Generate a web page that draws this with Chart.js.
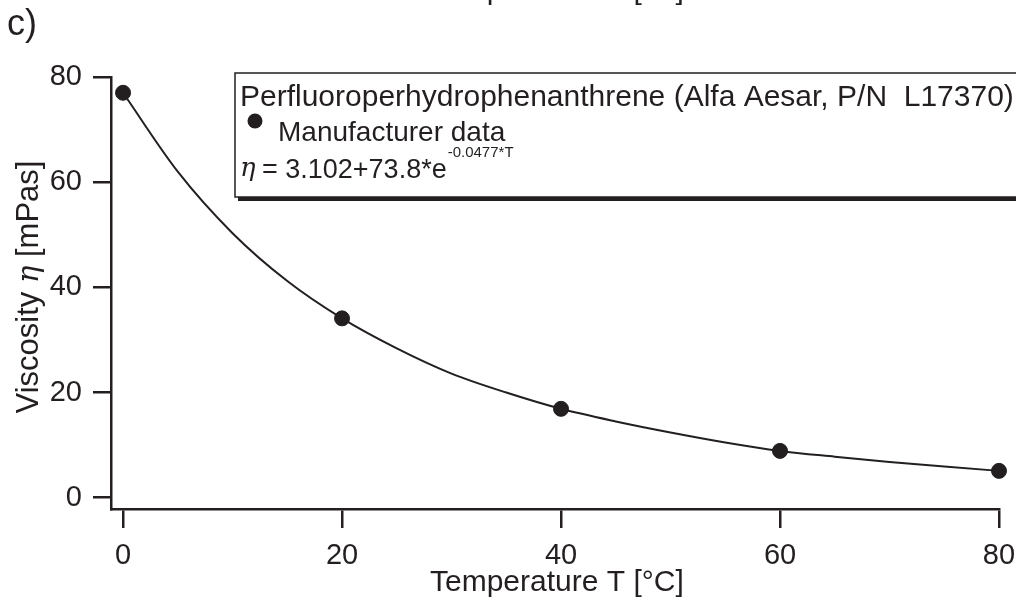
<!DOCTYPE html>
<html>
<head>
<meta charset="utf-8">
<script src="https://cdn.jsdelivr.net/npm/chart.js@4.4.1/dist/chart.umd.min.js"></script>
<style>
  html, body { margin: 0; padding: 0; background: #fff; }
  #wrap { width: 1016px; height: 598px; }
</style>
</head>
<body>
<div id="wrap"><canvas id="chart" width="1016" height="598"></canvas></div>
<script>
// manufacturer data points
const tempData = [0, 20, 40, 60, 80];
const viscData = [77.0, 34.1, 16.9, 8.9, 5.1];

// fitted curve
const fitTemp = [0, 5, 10, 15, 20, 25, 30, 35, 40, 45, 50, 55, 60, 65, 70, 75, 80];
const fitVisc = [77.0, 62.0, 50.3, 41.2, 34.1, 28.4, 23.6, 20.0, 16.9, 14.5, 12.4, 10.5, 8.9, 7.8, 6.8, 5.95, 5.1];

const xTicks = [0, 20, 40, 60, 80];
const yTicks = [0, 20, 40, 60, 80];

const ink = "#231f20";
const sans = "'Liberation Sans', Arial, Helvetica, sans-serif";
const serif = "'DejaVu Serif', serif";

const overlay = {
  id: "overlay",
  afterDraw(chart) {
    const ctx = chart.ctx;
    ctx.save();
    ctx.fillStyle = ink;
    ctx.strokeStyle = ink;
    ctx.textBaseline = "alphabetic";
    ctx.textAlign = "left";

    // panel label
    ctx.font = "36px " + sans;
    ctx.fillText("c)", 7, 35);

    // cut-off title of the panel above, and the x title
    ctx.font = "30px " + sans;
    ctx.fillText("Temperature T [°C]", 430, -1);
    ctx.fillText("Temperature T [°C]", 430, 591);

    // y title, rotated
    ctx.save();
    ctx.translate(38, 287);
    ctx.rotate(-Math.PI / 2);
    const parts = [["Viscosity ", "31px " + sans], ["η", "italic 29px " + serif], [" [mPas]", "31px " + sans]];
    let total = 0;
    parts.forEach(p => { ctx.font = p[1]; total += ctx.measureText(p[0]).width; });
    let x = -total / 2;
    parts.forEach(p => { ctx.font = p[1]; ctx.fillText(p[0], x, 0); x += ctx.measureText(p[0]).width; });
    ctx.restore();

    // legend box with drop shadow
    const bx = 235, by = 73, bw = 800, bh = 124;
    ctx.fillRect(bx + 3, by + bh, bw, 4);
    ctx.fillStyle = "#fff";
    ctx.fillRect(bx, by, bw, bh);
    ctx.fillStyle = ink;
    ctx.lineWidth = 1.5;
    ctx.strokeRect(bx, by, bw, bh);

    ctx.font = "30px " + sans;
    ctx.fillText("Perfluoroperhydrophenanthrene (Alfa Aesar, P/N  L17370)", 240, 106);

    ctx.beginPath();
    ctx.arc(255, 121, 7.5, 0, Math.PI * 2);
    ctx.fill();
    ctx.font = "28px " + sans;
    ctx.fillText("Manufacturer data", 278, 141);

    ctx.font = "italic 26px " + serif;
    ctx.fillText("η", 240, 176);
    ctx.font = "27px " + sans;
    const eq = "= 3.102+73.8*e";
    ctx.fillText(eq, 262, 178);
    const ew = ctx.measureText(eq).width;
    ctx.font = "15px " + sans;
    ctx.fillText("-0.0477*T", 262 + ew + 1, 157);

    ctx.restore();
  }
};

new Chart(document.getElementById("chart"), {
  data: {
    datasets: [
      {
        type: "line",
        label: "fit",
        data: fitTemp.map((t, i) => ({ x: t, y: fitVisc[i] })),
        borderColor: ink,
        borderWidth: 2,
        pointRadius: 0,
        cubicInterpolationMode: "monotone",
        fill: false,
        clip: false,
        order: 2,
      },
      {
        type: "scatter",
        label: "Manufacturer data",
        data: tempData.map((t, i) => ({ x: t, y: viscData[i] })),
        backgroundColor: ink,
        borderColor: ink,
        pointRadius: 7.5,
        pointHoverRadius: 7.5,
        clip: false,
        order: 1,
      },
    ],
  },
  options: {
    responsive: false,
    animation: false,
    devicePixelRatio: 1,
    layout: { padding: { left: 0, top: 77, right: 17, bottom: 0 } },
    plugins: { legend: { display: false }, tooltip: { enabled: false } },
    scales: {
      x: {
        type: "linear",
        min: -1.1,
        max: 80,
        afterFit: s => { s.height = 89; s.paddingLeft = 0; s.paddingRight = 0; },
        afterBuildTicks: s => { s.ticks = xTicks.map(v => ({ value: v })); },
        border: { color: ink, width: 2.5 },
        grid: { drawOnChartArea: false, color: ink, tickColor: ink, tickLength: 19, lineWidth: 2.5, tickWidth: 2.5 },
        ticks: { color: ink, font: { family: sans, size: 29 }, padding: 11, maxRotation: 0 },
      },
      y: {
        type: "linear",
        min: -2.15,
        max: 80,
        afterFit: s => { s.width = 111; },
        afterBuildTicks: s => { s.ticks = yTicks.map(v => ({ value: v })); },
        border: { color: ink, width: 2.5 },
        grid: { drawOnChartArea: false, color: ink, tickColor: ink, tickLength: 18, lineWidth: 2.5, tickWidth: 2.5 },
        ticks: { color: ink, font: { family: sans, size: 29 }, padding: 11 },
      },
    },
  },
  plugins: [overlay],
});
</script>
</body>
</html>
